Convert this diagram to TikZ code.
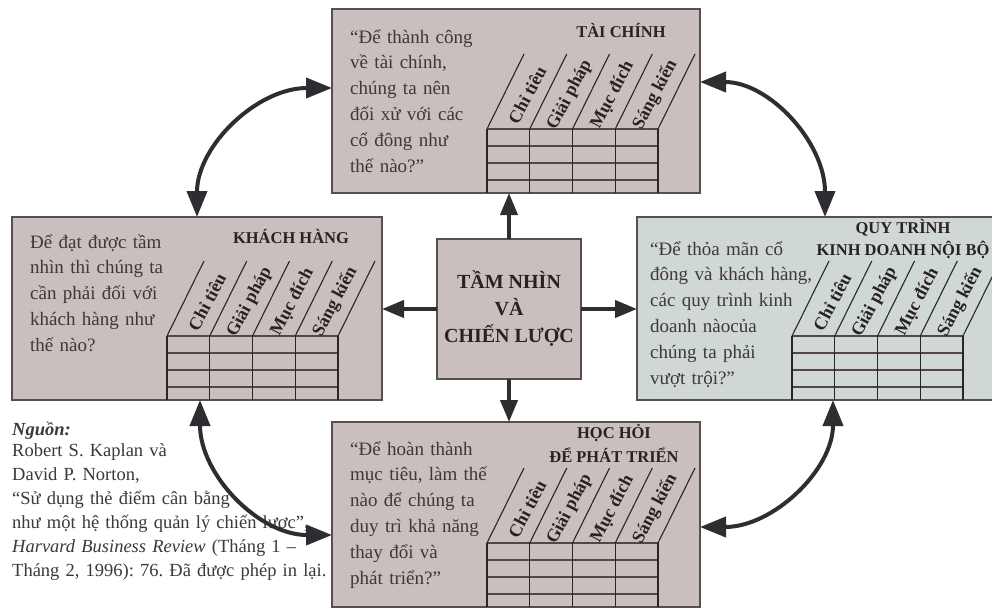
\documentclass[tikz,border=0pt]{standalone}
\usepackage{fontspec}
\setmainfont{Liberation Serif}
\usetikzlibrary{arrows.meta,calc}
\frenchspacing

\definecolor{cardfill}{RGB}{201,191,190}
\definecolor{procfill}{RGB}{208,216,215}
\definecolor{cardedge}{RGB}{88,78,77}
\definecolor{rowline}{RGB}{84,70,68}
\definecolor{gridline}{RGB}{40,38,40}
\definecolor{inktext}{RGB}{62,56,56}
\definecolor{headtext}{RGB}{40,34,34}
\definecolor{arrowink}{RGB}{45,45,50}

\tikzset{
  cardbox/.style={draw=cardedge, line width=2.2pt, fill=cardfill, anchor=north west,
    inner sep=0pt, outer sep=0pt},
  bodytext/.style={anchor=base west, inner sep=0pt, text width=#1, align=left,
    text=inktext, font=\fontsize{19}{25.8}\selectfont},
  heading/.style={anchor=base, inner sep=0pt, text=headtext,
    font=\fontsize{16.5}{23}\selectfont\bfseries},
  collabel/.style={rotate=62, inner sep=0pt, text=headtext,
    font=\fontsize{18}{18}\selectfont\bfseries},
  rowrule/.style={draw=rowline, line width=1.8pt},
  colrule/.style={draw=gridline, line width=1.2pt},
  slant/.style={draw=gridline, line width=1.1pt},
  linkarrow/.style={draw=arrowink, line width=4pt,
    {Triangle[length=26pt,width=20pt]}-{Triangle[length=26pt,width=20pt]}},
  hubarrow/.style={draw=arrowink, line width=4pt, -{Triangle[length=22pt,width=17pt]}},
}

% measures table with slanted column headers, hung from the bottom of a card
\newcommand{\scoregrid}[1]{%
  \begin{scope}[shift={($(#1.south west)+(155,0)$)}]
    \foreach \yy in {-64,-47,-30,-13} \draw[rowrule] (0,\yy) -- (171,\yy);
    \foreach \xx in {0,42.75,85.5,128.25,171} {
      \draw[colrule] (\xx,0) -- (\xx,-64);
      \draw[slant] (\xx,-64) -- ++(37,-75);
    }
    \foreach \lab [count=\i] in {Chỉ tiêu, Giải pháp, Mục đích, Sáng kiến}
      \node[collabel] (#1-l\i) at ({(\i-1)*42.75+40},-98) {\lab};
  \end{scope}}

\begin{document}
\begin{tikzpicture}[x=1pt,y=-1pt]
\clip (0,0) rectangle (992,613);
\fill[white] (0,0) rectangle (992,613);

% the four perspective cards and the hub
\node[cardbox, minimum width=368pt, minimum height=184pt] (fin) at (332,9) {};
\node[cardbox, minimum width=370pt, minimum height=183pt] (cust) at (12,217) {};
\node[cardbox, fill=procfill, minimum width=369pt, minimum height=183pt] (proc) at (637,217) {};
\node[cardbox, minimum width=368pt, minimum height=185pt] (learn) at (332,422) {};
\node[cardbox, minimum width=144pt, minimum height=140pt, align=center, text=headtext,
  font=\fontsize{20}{27}\selectfont\bfseries] (vis) at (437,239)
  {TẦM NHÌN\\VÀ\\CHIẾN LƯỢC};

\scoregrid{fin}
\scoregrid{cust}
\scoregrid{proc}
\scoregrid{learn}

% card headings
\node[heading] (fin-h) at ($(fin.north west)+(289,28.5)$) {TÀI CHÍNH};
\node[heading] (cust-h) at ($(cust.north west)+(279,26.5)$) {KHÁCH HÀNG};
\node[heading] (proc-h1) at ($(proc.north west)+(266,16.5)$) {QUY TRÌNH};
\node[heading] (proc-h2) at ($(proc.north west)+(266,38.5)$) {KINH DOANH NỘI BỘ};
\node[heading] (learn-h1) at ($(learn.north west)+(282,16.5)$) {HỌC HỎI};
\node[heading] (learn-h2) at ($(learn.north west)+(282,40.5)$) {ĐỂ PHÁT TRIỂN};

% card questions
\node[bodytext=200pt] (fin-q) at ($(fin.north west)+(18,34)$)
  {“Để thành công\\về tài chính,\\chúng ta nên\\đối xử với các\\cổ đông như\\thế nào?”};
\node[bodytext=200pt] (cust-q) at ($(cust.north west)+(18,31)$)
  {Để đạt được tầm\\nhìn thì chúng ta\\cần phải đối với\\khách hàng như\\thế nào?};
\node[bodytext=200pt] (proc-q) at ($(proc.north west)+(13,38)$)
  {“Để thỏa mãn cổ\\đông và khách hàng,\\các quy trình kinh\\doanh nàocủa\\chúng ta phải\\vượt trội?”};
\node[bodytext=200pt] (learn-q) at ($(learn.north west)+(18,33)$)
  {“Để hoàn thành\\mục tiêu, làm thế\\nào để chúng ta\\duy trì khả năng\\thay đổi và\\phát triển?”};

% source note
\node[anchor=base west, inner sep=0pt, text=inktext,
  font=\fontsize{18.5}{24}\selectfont\bfseries\itshape] (src-h) at (12,435) {Nguồn:};
\node[anchor=base west, inner sep=0pt, text width=340pt, align=left, text=inktext,
  font=\fontsize{18.5}{24}\selectfont] (src) at (12,456)
  {Robert S. Kaplan và\\David P. Norton,\\“Sử dụng thẻ điểm cân bằng\\như một hệ thống quản lý chiến lược”,\\\textit{Harvard Business Review} (Tháng 1 –\\Tháng 2, 1996): 76. Đã được phép in lại.};

% hub arrows
\draw[hubarrow] (vis.north) -- (vis.north |- fin.south);
\draw[hubarrow] (vis.south) -- (vis.south |- learn.north);
\draw[hubarrow] (vis.west) -- (vis.west -| cust.east);
\draw[hubarrow] (vis.east) -- (vis.east -| proc.west);

% links between neighbouring cards
\coordinate (tlA) at ($(cust.north west)+(185,0)$);
\coordinate (tlB) at ($(fin.north west)+(0,79)$);
\draw[linkarrow] (tlA) .. controls ($(tlA)+(0,-71)$) and ($(tlB)+(-75,0)$) .. (tlB);

\coordinate (trA) at ($(fin.north east)+(0,73)$);
\coordinate (trB) at ($(proc.north west)+(188,0)$);
\draw[linkarrow] (trA) .. controls ($(trA)+(69,0)$) and ($(trB)+(0,-75)$) .. (trB);

\coordinate (blA) at ($(cust.south west)+(188,0)$);
\coordinate (blB) at ($(learn.north west)+(0,113)$);
\draw[linkarrow] (blA) .. controls ($(blA)+(0,75)$) and ($(blB)+(-73,0)$) .. (blB);

\coordinate (brA) at ($(learn.north east)+(0,105)$);
\coordinate (brB) at ($(proc.south west)+(196,0)$);
\draw[linkarrow] (brA) .. controls ($(brA)+(73,0)$) and ($(brB)+(0,70)$) .. (brB);
\end{tikzpicture}
\end{document}
